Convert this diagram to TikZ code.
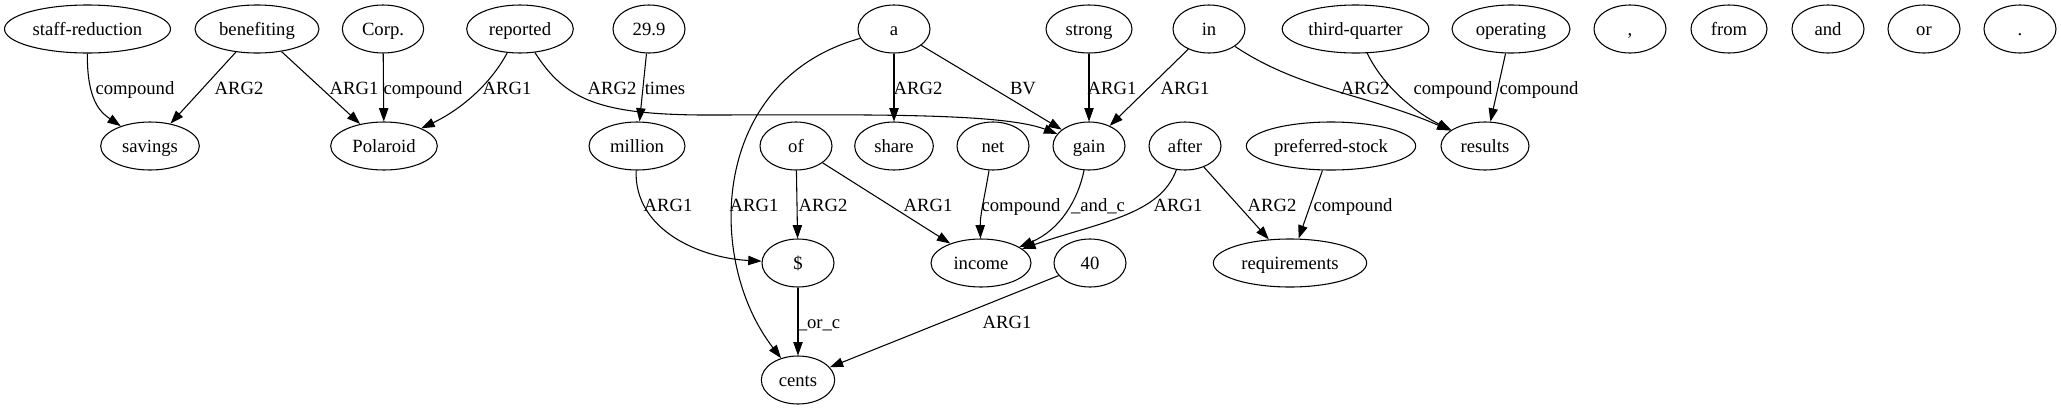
\documentclass[tikz,border=0pt]{standalone}
\usepackage{fontspec}
\setmainfont{Liberation Serif}
\usetikzlibrary{arrows.meta,shapes.geometric}
\begin{document}
\begin{tikzpicture}[x=0.75pt,y=-0.75pt,
  nd/.style={draw,ellipse,line width=0.8pt,minimum height=36pt,inner sep=0pt,text height=9.6pt,text depth=0.4pt,font=\fontsize{14}{16}\selectfont},
  lbl/.style={inner sep=0pt,text height=9.6pt,text depth=0.4pt,font=\fontsize{14}{16}\selectfont},
  edge/.style={draw,line width=0.8pt,-{Triangle[length=10pt,width=7pt]}}]
\useasboundingbox (0,0) rectangle (2061,411);
% row 1
\node[nd,minimum width=124.5pt] (sr) at (87.5,29) {staff-reduction};
\node[nd,minimum width=93pt] (ben) at (257,29) {benefiting};
\node[nd,minimum width=61pt] (corp) at (383,29) {Corp.};
\node[nd,minimum width=80pt] (rep) at (520,29) {reported};
\node[nd,minimum width=54pt] (n299) at (649,29) {29.9};
\node[nd,minimum width=54pt] (a) at (894,29) {a};
\node[nd,minimum width=64.5pt] (str) at (1089,29) {strong};
\node[nd,minimum width=54pt] (in) at (1209,29) {in};
\node[nd,minimum width=110pt] (tq) at (1355.5,29) {third-quarter};
\node[nd,minimum width=88.5pt] (op) at (1511,29) {operating};
\node[nd,minimum width=54pt] (comma) at (1630,29) {,};
\node[nd,minimum width=57pt] (from) at (1729,29) {from};
\node[nd,minimum width=54pt] (and) at (1828,29) {and};
\node[nd,minimum width=54pt] (or) at (1924,29) {or};
\node[nd,minimum width=54pt] (dot) at (2020,29) {.};
% row 2
\node[nd,minimum width=74pt] (sav) at (150,146) {savings};
\node[nd,minimum width=80pt] (pol) at (384,146) {Polaroid};
\node[nd,minimum width=72pt] (mil) at (637,146) {million};
\node[nd,minimum width=54pt] (of) at (796,146) {of};
\node[nd,minimum width=59pt] (sh) at (894,146) {share};
\node[nd,minimum width=54pt] (net) at (993,146) {net};
\node[nd,minimum width=54pt] (gain) at (1089,146) {gain};
\node[nd,minimum width=54pt] (aft) at (1185,146) {after};
\node[nd,minimum width=127pt] (ps) at (1331,146) {preferred-stock};
\node[nd,minimum width=66pt] (res) at (1485,146) {results};
% row 3
\node[nd,minimum width=54pt] (dol) at (798,263) {\$};
\node[nd,minimum width=75pt] (inc) at (981,263) {income};
\node[nd,minimum width=54pt] (n40) at (1090,263) {40};
\node[nd,minimum width=115pt] (req) at (1290,263) {requirements};
% row 4
\node[nd,minimum width=55pt] (cents) at (798,380) {cents};
% edges
\path[edge] (sr) .. controls (87,100) and (100,112) .. (sav);
\path[edge] (ben) -- (sav);
\path[edge] (ben) -- (pol);
\path[edge] (corp) -- (pol);
\path[edge] (rep) .. controls (490,85) and (460,110) .. (pol);
\path[edge] (rep) .. controls (565,100) and (600,114) .. (700,115) .. controls (850,115) and (1000,112) .. (gain);
\path[edge] (n299) -- (mil);
\path[edge] (mil) .. controls (634,230) and (700,258) .. (dol);
\path[edge] (a) .. controls (710,80) and (705,260) .. (cents);
\path[edge] (a) -- (sh);
\path[edge] (a) -- (gain);
\path[edge] (str) -- (gain);
\path[edge] (in) -- (gain);
\path[edge] (in) .. controls (1300,90) and (1370,95) .. (res);
\path[edge] (tq) .. controls (1385,90) and (1420,115) .. (res);
\path[edge] (op) -- (res);
\path[edge] (of) -- (dol);
\path[edge] (of) -- (inc);
\path[edge] (net) .. controls (985,195) and (980,215) .. (inc);
\path[edge] (gain) .. controls (1078,200) and (1060,230) .. (inc);
\path[edge] (aft) .. controls (1160,215) and (1100,222) .. (inc);
\path[edge] (aft) -- (req);
\path[edge] (ps) -- (req);
\path[edge] (dol) -- (cents);
\path[edge] (n40) -- (cents);
% labels
\node[lbl] (l1) at (135,88) {compound};
\node[lbl] (l2) at (239,88) {ARG2};
\node[lbl] (l3) at (354,88) {ARG1};
\node[lbl] (l4) at (423,88) {compound};
\node[lbl] (l5) at (507,88) {ARG1};
\node[lbl] (l6) at (612,88) {ARG2};
\node[lbl] (l7) at (665,88) {times};
\node[lbl] (l8) at (668,205) {ARG1};
\node[lbl] (l9) at (754,205) {ARG1};
\node[lbl] (l10) at (918,88) {ARG2};
\node[lbl] (l11) at (1023,88) {BV};
\node[lbl] (l12) at (1112,88) {ARG1};
\node[lbl] (l13) at (1185,88) {ARG1};
\node[lbl] (l14) at (1365,88) {ARG2};
\node[lbl] (l15) at (1453,88) {compound};
\node[lbl] (l16) at (1539,88) {compound};
\node[lbl] (l17) at (823,205) {ARG2};
\node[lbl] (l18) at (928,205) {ARG1};
\node[lbl] (l19) at (1021,205) {compound};
\node[lbl] (l20) at (1098,205) {\_and\_c};
\node[lbl] (l21) at (1178,205) {ARG1};
\node[lbl] (l22) at (1272,205) {ARG2};
\node[lbl] (l23) at (1353,205) {compound};
\node[lbl] (l24) at (819,322) {\_or\_c};
\node[lbl] (l25) at (1007,322) {ARG1};
\end{tikzpicture}
\end{document}
